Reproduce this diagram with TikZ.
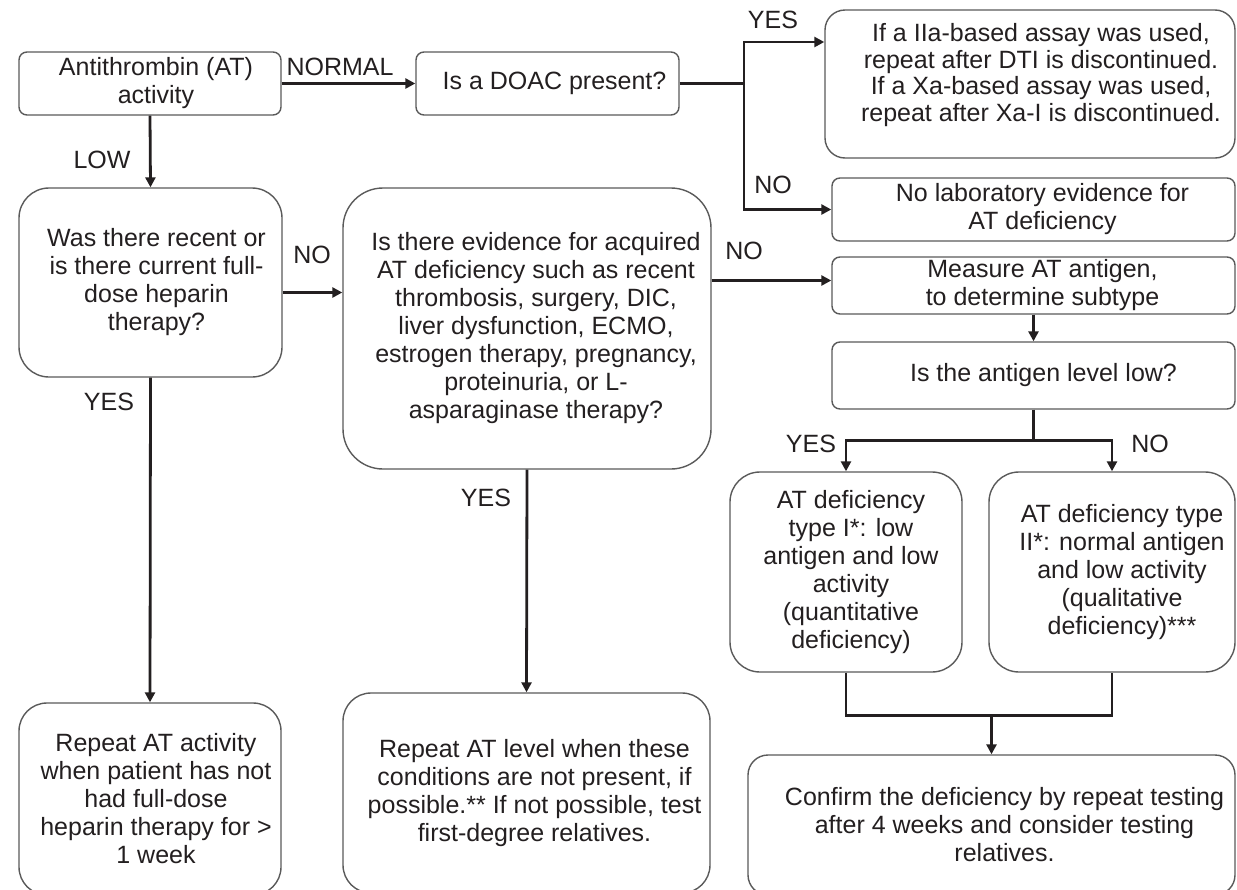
\documentclass[tikz,border=0pt]{standalone}
\usepackage{fontspec}
\setmainfont{Liberation Sans}
\usetikzlibrary{arrows.meta,calc}
\definecolor{ink}{HTML}{231F20}
\definecolor{frame}{HTML}{5A5A5A}
\tikzset{
  x=0.5pt, y=-0.5pt,
  box/.style={draw=frame, line width=0.7pt, rectangle, inner sep=0pt},
  boxtext/.style={align=center, text=ink, inner sep=0pt,
    font=\fontsize{12.5}{14}\selectfont},
  tag/.style={text=ink, inner sep=0pt, font=\fontsize{12.5}{14}\selectfont},
  conn/.style={draw=ink, line width=1.4pt},
  arrow/.style={conn, -{Triangle[length=5pt,width=5pt]}},
}
\begin{document}
\begin{tikzpicture}
\useasboundingbox (0,0) rectangle (1237,889);
\fill[white] (0,0) rectangle (1237,889);
\clip (0,0) rectangle (1237,889);

% ---- boxes ----
\node[box, rounded corners=4pt, minimum width=131pt, minimum height=31.5pt,
  label={[boxtext, name=At, xshift=3pt]center:{Antithrombin (AT)\\activity}}]
  (A) at (150,83.5) {};
\node[box, rounded corners=4pt, minimum width=131.5pt, minimum height=31.5pt,
  label={[boxtext, name=Bt, xshift=3.5pt]center:{Is a DOAC present?}}]
  (B) at (547.5,83.5) {};
\node[box, rounded corners=10pt, minimum width=205pt, minimum height=74pt,
  label={[boxtext, name=Ct, xshift=5.5pt, yshift=4.5pt,
    font=\fontsize{12.5}{13.4}\selectfont]center:{If a IIa-based assay was used,\\repeat after DTI is discontinued.\\If a Xa-based assay was used,\\repeat after Xa-I is discontinued.}}]
  (C) at (1030,84) {};
\node[box, rounded corners=4pt, minimum width=201.5pt, minimum height=31.5pt,
  label={[boxtext, name=Dt, xshift=4.5pt]center:{No laboratory evidence for\\AT deficiency}}]
  (D) at (1033.5,209.5) {};
\node[box, rounded corners=15pt, minimum width=131.5pt, minimum height=94.5pt,
  label={[boxtext, name=Et, xshift=3pt]center:{Was there recent or\\is there current full-\\dose heparin\\therapy?}}]
  (E) at (150.5,282.5) {};
\node[box, rounded corners=20pt, minimum width=184pt, minimum height=140.5pt,
  label={[boxtext, name=Ft, xshift=4.5pt]center:{Is there evidence for acquired\\AT deficiency such as recent\\thrombosis, surgery, DIC,\\liver dysfunction, ECMO,\\estrogen therapy, pregnancy,\\proteinuria, or L-\\asparaginase therapy?}}]
  (F) at (527,328.5) {};
\node[box, rounded corners=4pt, minimum width=201.5pt, minimum height=28.5pt,
  label={[boxtext, name=Ht, xshift=4.5pt]center:{Measure AT antigen,\\to determine subtype}}]
  (H) at (1033.5,285.5) {};
\node[box, rounded corners=4pt, minimum width=201.5pt, minimum height=33.5pt,
  label={[boxtext, name=It, xshift=5pt]center:{Is the antigen level low?}}]
  (I) at (1033.5,375.5) {};
\node[box, rounded corners=15pt, minimum width=116pt, minimum height=100pt,
  label={[boxtext, name=Jt, xshift=2.5pt]center:{AT deficiency\\type I*: low\\antigen and low\\activity\\(quantitative\\deficiency)}}]
  (J) at (846,572) {};
\node[box, rounded corners=15pt, minimum width=123pt, minimum height=100pt,
  label={[boxtext, name=Kt, xshift=5pt]center:{AT deficiency type\\II*: normal antigen\\and low activity\\(qualitative\\deficiency)***}}]
  (K) at (1112,572) {};
\node[box, rounded corners=14pt, minimum width=131pt, minimum height=96pt,
  label={[boxtext, name=Gt, xshift=3pt]center:{Repeat AT activity\\when patient has not\\had full-dose\\heparin therapy for >\\1 week}}]
  (G) at (150,799) {};
\node[box, rounded corners=14pt, minimum width=183.5pt, minimum height=100pt,
  label={[boxtext, name=Mt, xshift=4pt]center:{Repeat AT level when these\\conditions are not present, if\\possible.** If not possible, test\\first-degree relatives.}}]
  (M) at (526.5,793) {};
\node[box, rounded corners=10pt, minimum width=243.5pt, minimum height=70pt,
  label={[boxtext, name=Lt, xshift=6.5pt]center:{Confirm the deficiency by repeat testing\\after 4 weeks and consider testing\\relatives.}}]
  (L) at (991.5,825) {};

% ---- branch labels ----
\node[tag] (tNormal) at (340,67) {NORMAL};
\node[tag] (tLow) at (102,160) {LOW};
\node[tag] (tYesDoac) at (773,20) {YES};
\node[tag] (tNoDoac) at (773,185) {NO};
\node[tag] (tNoHep) at (312,255) {NO};
\node[tag] (tYesHep) at (109,402) {YES};
\node[tag] (tNoAcq) at (744,251) {NO};
\node[tag] (tYesAcq) at (486,498) {YES};
\node[tag] (tYesAg) at (811,444) {YES};
\node[tag] (tNoAg) at (1150,444) {NO};

% ---- connectors ----
\draw[arrow] (A.east) -- (B.west);
\draw[arrow] (A.south) -- (E.north);
\coordinate (split) at (744,83.5);
\draw[conn] (B.east) -- (split);
\draw[arrow] (split) |- ([yshift=21pt]C.west);
\draw[arrow] (split) |- (D.west);
\draw[arrow] ([yshift=-5pt]E.east) -- ([yshift=-5pt]E.east -| F.west);
\draw[arrow] (E.south) -- (G.north);
\draw[arrow] ([yshift=2.5pt]H.west -| F.east) -- ([yshift=2.5pt]H.west);
\draw[arrow] (F.south) -- (M.north);
\draw[arrow] (H.south) -- (I.north);
\coordinate (lowSplit) at ([yshift=-15.5pt]I.south);
\draw[conn] (I.south) -- (lowSplit);
\draw[arrow] (lowSplit) -| (J.north);
\draw[arrow] (lowSplit) -| (K.north);
\coordinate (merge) at ([yshift=-21.5pt]J.south -| L.north);
\draw[conn] (J.south) |- (merge) -| (K.south);
\draw[arrow] (merge) -- (L.north);
\end{tikzpicture}
\end{document}
